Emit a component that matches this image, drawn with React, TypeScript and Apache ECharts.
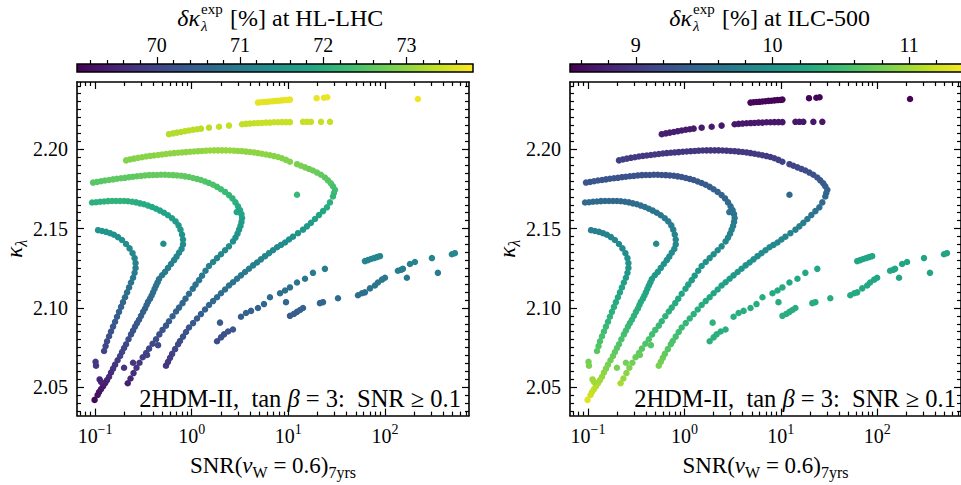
import React, { useEffect, useRef } from "react";
import * as echarts from "echarts";

const SERIF = "'Liberation Serif', 'DejaVu Serif', serif";
const VIRIDIS = ["#440154", "#482475", "#414487", "#355f8d", "#2a788e", "#21918c", "#22a884", "#44bf70", "#7ad151", "#bddf26", "#fde725"];

// axis ranges and tick labels
const X_LOG_MIN = -1.187;
const X_LOG_MAX = 2.87;
const Y_MIN = 2.0321;
const Y_MAX = 2.2424;
const Y_TICKS = [2.05, 2.1, 2.15, 2.2];
const X_TICK_EXPONENTS = [-1, 0, 1, 2];
const HL_MIN = 69.04;
const HL_MAX = 73.8;
const HL_TICKS = [70, 71, 72, 73];
const ILC_MIN = 8.518;
const ILC_MAX = 11.38;
const ILC_TICKS = [9, 10, 11];

// points: [log10 SNR, kappa_lambda, dk_exp HL-LHC (%), dk_exp ILC-500 (%)]
const curveA = [
  [0.686, 2.2294, 73.6, 8.56], [0.717, 2.2296, 73.6, 8.56], [0.748, 2.2298, 73.6, 8.56], [0.779, 2.2299, 73.6, 8.56],
  [0.81, 2.2301, 73.6, 8.56], [0.841, 2.2303, 73.6, 8.56], [0.872, 2.2305, 73.6, 8.56], [0.903, 2.2306, 73.6, 8.55],
  [0.934, 2.2308, 73.6, 8.55], [0.966, 2.231, 73.65, 8.55], [0.997, 2.2311, 73.65, 8.55], [1.017, 2.2313, 73.65, 8.55],
  [1.293, 2.2322, 73.65, 8.55], [1.369, 2.2325, 73.65, 8.55], [1.403, 2.2328, 73.65, 8.55], [2.341, 2.2317, 73.7, 8.55],
];

const curveB = [
  [-0.235, 2.2095, 73.25, 8.76], [-0.193, 2.21, 73.25, 8.76], [-0.152, 2.2105, 73.25, 8.75], [-0.11, 2.2109, 73.25, 8.75],
  [-0.069, 2.2114, 73.3, 8.75], [-0.028, 2.2118, 73.3, 8.74], [0.014, 2.2123, 73.3, 8.74], [0.055, 2.2126, 73.3, 8.74],
  [0.096, 2.213, 73.3, 8.73], [0.179, 2.2136, 73.3, 8.73], [0.283, 2.2142, 73.35, 8.72], [0.386, 2.2149, 73.35, 8.71],
  [0.521, 2.2158, 73.35, 8.7], [0.562, 2.216, 73.35, 8.7], [0.603, 2.2162, 73.35, 8.7], [0.645, 2.2164, 73.35, 8.7],
  [0.686, 2.2165, 73.4, 8.7], [0.727, 2.2166, 73.4, 8.7], [0.769, 2.2168, 73.4, 8.7], [0.81, 2.2168, 73.4, 8.7],
  [0.852, 2.217, 73.4, 8.7], [0.893, 2.217, 73.4, 8.7], [0.934, 2.2171, 73.4, 8.7], [0.976, 2.2171, 73.4, 8.7],
  [1.017, 2.2171, 73.4, 8.7], [1.152, 2.2173, 73.4, 8.69], [1.193, 2.2173, 73.4, 8.69], [1.234, 2.2173, 73.4, 8.69],
  [1.338, 2.2173, 73.4, 8.69], [1.431, 2.2173, 73.4, 8.69],
];

const curveC = [
  [-0.679, 2.193, 72.9, 9.05], [-0.638, 2.1936, 72.9, 9.05], [-0.597, 2.1941, 72.9, 9.05], [-0.555, 2.1946, 72.95, 9.0],
  [-0.514, 2.195, 72.95, 9.0], [-0.472, 2.1954, 72.95, 9.0], [-0.431, 2.1958, 72.95, 9.0], [-0.39, 2.1961, 72.95, 9.0],
  [-0.348, 2.1964, 73.0, 9.0], [-0.307, 2.1967, 73.0, 9.0], [-0.266, 2.197, 73.0, 9.0], [-0.224, 2.1973, 73.0, 8.98],
  [-0.183, 2.1976, 73.0, 8.98], [-0.141, 2.1978, 73.0, 8.98], [-0.1, 2.198, 73.0, 8.98], [-0.059, 2.1982, 73.0, 8.97],
  [-0.017, 2.1984, 73.0, 8.97], [0.024, 2.1986, 73.0, 8.97], [0.065, 2.1988, 73.0, 8.97], [0.107, 2.1989, 73.0, 8.97],
  [0.148, 2.1991, 73.05, 8.96], [0.19, 2.1992, 73.05, 8.96], [0.231, 2.1993, 73.05, 8.96], [0.272, 2.1993, 73.05, 8.96],
  [0.314, 2.1993, 73.05, 8.96], [0.355, 2.1993, 73.05, 8.96], [0.396, 2.1992, 73.05, 8.96], [0.438, 2.1991, 73.05, 8.96],
  [0.479, 2.1989, 73.0, 8.97], [0.521, 2.1988, 73.0, 8.97], [0.562, 2.1985, 73.0, 8.97], [0.603, 2.1983, 73.0, 8.98],
  [0.645, 2.198, 73.0, 8.98], [0.686, 2.1976, 73.0, 8.98], [0.727, 2.1972, 73.0, 8.99], [0.769, 2.1967, 73.0, 9.0],
  [0.81, 2.1962, 72.95, 9.0], [0.852, 2.1957, 72.95, 9.0], [0.893, 2.1951, 72.95, 9.0], [0.934, 2.1943, 72.9, 9.05],
  [0.976, 2.1933, 72.9, 9.05], [1.017, 2.1921, 72.9, 9.07], [1.09, 2.1906, 72.85, 9.1], [1.131, 2.1896, 72.85, 9.1],
  [1.173, 2.1886, 72.8, 9.12], [1.214, 2.1876, 72.75, 9.15], [1.255, 2.1866, 72.75, 9.17], [1.297, 2.1853, 72.7, 9.2],
  [1.338, 2.1839, 72.65, 9.23], [1.379, 2.1822, 72.6, 9.27], [1.41, 2.1804, 72.55, 9.3], [1.441, 2.1785, 72.5, 9.33],
  [1.462, 2.1767, 72.4, 9.37], [1.483, 2.1745, 72.35, 9.4], [1.472, 2.1724, 72.25, 9.43], [1.462, 2.1702, 72.15, 9.45],
  [1.431, 2.1665, 72.05, 9.5], [1.4, 2.1634, 71.95, 9.55], [1.359, 2.161, 71.85, 9.6], [1.317, 2.1585, 71.8, 9.63],
  [1.276, 2.156, 71.7, 9.68], [1.234, 2.1536, 71.65, 9.72], [1.193, 2.1514, 71.6, 9.74], [1.152, 2.1493, 71.55, 9.76],
  [1.1, 2.1471, 71.5, 9.78], [1.048, 2.1449, 71.45, 9.8], [1.007, 2.1431, 71.4, 9.82], [0.966, 2.1412, 71.35, 9.84],
  [0.924, 2.1397, 71.35, 9.85], [0.883, 2.1382, 71.3, 9.87], [0.841, 2.1363, 71.25, 9.89], [0.8, 2.1345, 71.25, 9.9],
  [0.759, 2.1326, 71.2, 9.92], [0.717, 2.1306, 71.15, 9.94], [0.676, 2.1286, 71.1, 9.96], [0.635, 2.1268, 71.1, 9.98],
  [0.593, 2.1247, 71.05, 10.0], [0.552, 2.1226, 71.0, 10.02], [0.51, 2.1205, 70.95, 10.04], [0.469, 2.1184, 70.9, 10.08],
  [0.427, 2.1162, 70.85, 10.12], [0.386, 2.1141, 70.85, 10.15], [0.345, 2.1116, 70.8, 10.18], [0.303, 2.1092, 70.75, 10.2],
  [0.262, 2.1067, 70.7, 10.23], [0.221, 2.1043, 70.65, 10.26], [0.179, 2.1018, 70.6, 10.28], [0.138, 2.099, 70.55, 10.31],
  [0.096, 2.0961, 70.45, 10.34], [0.055, 2.0933, 70.4, 10.37], [0.014, 2.0904, 70.35, 10.4], [-0.028, 2.0876, 70.3, 10.44],
  [-0.059, 2.0848, 70.25, 10.48], [-0.09, 2.0819, 70.2, 10.52], [-0.121, 2.0791, 70.15, 10.56], [-0.141, 2.0771, 70.1, 10.58],
  [-0.172, 2.074, 70.05, 10.62], [-0.203, 2.071, 69.95, 10.68], [-0.224, 2.0685, 69.9, 10.72], [-0.245, 2.066, 69.85, 10.76],
  [-0.266, 2.0636, 69.8, 10.8],
];

const curveC2 = [
  [-1.021, 2.179, 72.55, 9.3], [-0.979, 2.1794, 72.55, 9.3], [-0.938, 2.1798, 72.55, 9.29], [-0.897, 2.1803, 72.55, 9.29],
  [-0.855, 2.1806, 72.6, 9.28], [-0.814, 2.181, 72.6, 9.28], [-0.773, 2.1814, 72.6, 9.27], [-0.731, 2.1817, 72.6, 9.27],
  [-0.69, 2.182, 72.6, 9.26], [-0.648, 2.1824, 72.6, 9.26], [-0.607, 2.1827, 72.6, 9.25], [-0.566, 2.183, 72.6, 9.25],
  [-0.524, 2.1832, 72.65, 9.24], [-0.483, 2.1835, 72.65, 9.24], [-0.441, 2.1837, 72.65, 9.24], [-0.4, 2.1838, 72.65, 9.23],
  [-0.359, 2.1838, 72.65, 9.23], [-0.317, 2.1839, 72.65, 9.23], [-0.276, 2.1839, 72.65, 9.23], [-0.235, 2.1838, 72.65, 9.23],
  [-0.193, 2.1837, 72.65, 9.24], [-0.152, 2.1835, 72.65, 9.24], [-0.11, 2.1833, 72.65, 9.24], [-0.069, 2.1829, 72.6, 9.25],
  [-0.028, 2.1825, 72.6, 9.26], [0.014, 2.1819, 72.6, 9.27], [0.055, 2.1813, 72.55, 9.28], [0.096, 2.1806, 72.55, 9.29],
  [0.138, 2.1797, 72.5, 9.31], [0.179, 2.1787, 72.45, 9.32], [0.221, 2.1776, 72.45, 9.34], [0.262, 2.1763, 72.4, 9.36],
  [0.303, 2.1748, 72.35, 9.4], [0.345, 2.1731, 72.25, 9.42], [0.386, 2.1711, 72.2, 9.44], [0.422, 2.169, 72.1, 9.46],
  [0.453, 2.1665, 72.05, 9.5], [0.479, 2.164, 71.95, 9.54], [0.5, 2.1616, 71.9, 9.58], [0.515, 2.1591, 71.8, 9.61],
  [0.521, 2.1567, 71.75, 9.65], [0.515, 2.1542, 71.65, 9.69], [0.505, 2.1517, 71.6, 9.72], [0.49, 2.1493, 71.55, 9.76],
  [0.474, 2.1468, 71.5, 9.78], [0.453, 2.1443, 71.45, 9.8], [0.427, 2.1419, 71.4, 9.83], [0.386, 2.1388, 71.35, 9.86],
  [0.345, 2.1363, 71.25, 9.89], [0.303, 2.1338, 71.25, 9.91], [0.262, 2.1314, 71.2, 9.94], [0.221, 2.1289, 71.15, 9.96],
  [0.179, 2.1264, 71.1, 9.99], [0.143, 2.1234, 71.0, 10.02], [0.107, 2.1203, 70.95, 10.05], [0.076, 2.1175, 70.9, 10.1],
  [0.04, 2.1147, 70.85, 10.14], [0.011, 2.1121, 70.8, 10.17], [-0.028, 2.1089, 70.75, 10.21], [-0.064, 2.1058, 70.65, 10.24],
  [-0.095, 2.103, 70.6, 10.27], [-0.131, 2.1002, 70.55, 10.3], [-0.162, 2.0977, 70.5, 10.32], [-0.198, 2.0947, 70.45, 10.35],
  [-0.235, 2.0916, 70.4, 10.39], [-0.266, 2.0888, 70.3, 10.42], [-0.302, 2.0861, 70.25, 10.47], [-0.335, 2.0833, 70.2, 10.51],
  [-0.369, 2.0802, 70.15, 10.55], [-0.405, 2.0774, 70.1, 10.58], [-0.441, 2.0743, 70.05, 10.61], [-0.472, 2.0716, 69.95, 10.68],
  [-0.507, 2.0689, 69.9, 10.72], [-0.54, 2.0654, 69.8, 10.76], [-0.571, 2.0623, 69.75, 10.82], [-0.602, 2.0589, 69.65, 10.87],
  [-0.633, 2.0555, 69.55, 10.94], [-0.662, 2.0525, 69.45, 11.0],
];

const curveD = [
  [-1.031, 2.1664, 72.05, 9.51], [-0.99, 2.1666, 72.05, 9.51], [-0.948, 2.1669, 72.05, 9.5], [-0.907, 2.1671, 72.05, 9.5],
  [-0.866, 2.1673, 72.1, 9.49], [-0.824, 2.1674, 72.1, 9.49], [-0.783, 2.1674, 72.1, 9.49], [-0.741, 2.1674, 72.1, 9.49],
  [-0.7, 2.1674, 72.1, 9.49], [-0.659, 2.1672, 72.05, 9.5], [-0.617, 2.1669, 72.05, 9.5], [-0.576, 2.1665, 72.0, 9.51],
  [-0.535, 2.1659, 72.0, 9.53], [-0.493, 2.1653, 71.95, 9.54], [-0.452, 2.1645, 71.95, 9.56], [-0.41, 2.1636, 71.9, 9.58],
  [-0.369, 2.1625, 71.9, 9.6], [-0.328, 2.1613, 71.85, 9.61], [-0.286, 2.16, 71.8, 9.62], [-0.245, 2.1584, 71.8, 9.64],
  [-0.203, 2.1565, 71.7, 9.67], [-0.167, 2.1545, 71.65, 9.71], [-0.136, 2.152, 71.6, 9.74], [-0.116, 2.1493, 71.55, 9.76],
  [-0.1, 2.1462, 71.45, 9.79], [-0.09, 2.1431, 71.4, 9.82], [-0.09, 2.14, 71.35, 9.85], [-0.105, 2.1372, 71.3, 9.88],
  [-0.131, 2.1348, 71.25, 9.9], [-0.157, 2.1323, 71.2, 9.92], [-0.183, 2.1301, 71.15, 9.95], [-0.214, 2.1277, 71.1, 9.97],
  [-0.245, 2.1252, 71.05, 10.0], [-0.276, 2.1227, 71.0, 10.03], [-0.307, 2.1206, 70.95, 10.05], [-0.338, 2.1182, 70.9, 10.09],
  [-0.353, 2.1161, 70.85, 10.12], [-0.369, 2.1141, 70.85, 10.15], [-0.384, 2.112, 70.8, 10.17], [-0.4, 2.1098, 70.75, 10.2],
  [-0.415, 2.1078, 70.7, 10.22], [-0.431, 2.1058, 70.65, 10.24], [-0.452, 2.1038, 70.6, 10.26], [-0.467, 2.1018, 70.6, 10.28],
  [-0.483, 2.0996, 70.55, 10.3], [-0.503, 2.0975, 70.5, 10.33], [-0.524, 2.095, 70.45, 10.35], [-0.545, 2.0925, 70.4, 10.38],
  [-0.566, 2.0904, 70.35, 10.4], [-0.586, 2.0882, 70.3, 10.44], [-0.607, 2.0857, 70.25, 10.48], [-0.628, 2.0833, 70.2, 10.51],
  [-0.654, 2.0802, 70.15, 10.55], [-0.679, 2.0771, 70.1, 10.58], [-0.7, 2.0747, 70.05, 10.61], [-0.721, 2.0722, 70.0, 10.66],
  [-0.741, 2.0697, 69.95, 10.7], [-0.767, 2.067, 69.85, 10.74], [-0.793, 2.0642, 69.8, 10.79], [-0.814, 2.0617, 69.75, 10.83],
  [-0.835, 2.0593, 69.65, 10.87], [-0.855, 2.0566, 69.6, 10.92], [-0.876, 2.0545, 69.55, 10.96], [-0.897, 2.0525, 69.45, 11.0],
  [-0.917, 2.0506, 69.4, 11.04], [-0.938, 2.0488, 69.35, 11.08], [-0.959, 2.0469, 69.3, 11.12], [-0.974, 2.0451, 69.25, 11.16],
  [-1.005, 2.042, 69.15, 11.25],
];

const curveE = [
  [-0.969, 2.149, 71.5, 9.76], [-0.928, 2.1485, 71.5, 9.77], [-0.886, 2.1479, 71.5, 9.77], [-0.845, 2.1471, 71.5, 9.78],
  [-0.804, 2.1461, 71.45, 9.79], [-0.762, 2.1446, 71.45, 9.81], [-0.721, 2.1428, 71.4, 9.82], [-0.679, 2.1403, 71.35, 9.85],
  [-0.643, 2.1375, 71.3, 9.87], [-0.612, 2.1345, 71.25, 9.9], [-0.591, 2.1314, 71.2, 9.94], [-0.581, 2.1283, 71.15, 9.97],
  [-0.581, 2.1252, 71.05, 10.0], [-0.591, 2.1221, 71.0, 10.03], [-0.607, 2.119, 70.95, 10.07], [-0.628, 2.116, 70.85, 10.14],
  [-0.648, 2.1129, 70.8, 10.17], [-0.669, 2.1098, 70.75, 10.2], [-0.69, 2.1067, 70.7, 10.23], [-0.711, 2.1036, 70.6, 10.26],
  [-0.731, 2.1006, 70.55, 10.3], [-0.752, 2.0975, 70.5, 10.33], [-0.773, 2.0944, 70.45, 10.36], [-0.793, 2.0913, 70.4, 10.39],
  [-0.814, 2.0882, 70.3, 10.43], [-0.835, 2.0851, 70.25, 10.48], [-0.855, 2.0821, 70.2, 10.53], [-0.876, 2.079, 70.15, 10.56],
  [-0.891, 2.0759, 70.05, 10.59], [-0.907, 2.0728, 70.0, 10.65], [-0.995, 2.066, 69.85, 10.77], [-0.99, 2.0636, 69.8, 10.8],
  [-0.953, 2.0549, 69.55, 10.95], [-0.938, 2.0534, 69.5, 10.98],
];

const dotsUpper = [
  [0.262, 2.079, 70.15, 10.32], [0.303, 2.0814, 70.2, 10.32], [0.334, 2.0833, 70.2, 10.32], [0.376, 2.0851, 70.25, 10.31],
  [0.427, 2.0864, 70.3, 10.31], [0.51, 2.0944, 70.45, 10.3], [0.562, 2.0968, 70.5, 10.3], [0.614, 2.0981, 70.5, 10.29],
  [0.686, 2.0999, 70.55, 10.29], [0.748, 2.1024, 70.6, 10.28], [0.81, 2.1067, 70.7, 10.27], [0.914, 2.1092, 70.75, 10.26],
  [0.966, 2.111, 70.8, 10.25], [1.017, 2.1129, 70.8, 10.25], [1.09, 2.116, 70.85, 10.24], [1.173, 2.1184, 70.9, 10.23],
  [1.255, 2.1221, 71.0, 10.22], [1.379, 2.1246, 71.05, 10.21],
];

const dotsLower = [
  [1.017, 2.095, 70.4, 10.3], [1.058, 2.0962, 70.45, 10.3], [1.09, 2.0975, 70.45, 10.3], [1.121, 2.0987, 70.5, 10.29],
  [1.152, 2.0999, 70.5, 10.29], [1.327, 2.103, 70.6, 10.28], [1.359, 2.1036, 70.6, 10.28], [1.514, 2.1061, 70.7, 10.27],
  [1.721, 2.108, 70.75, 10.26], [1.762, 2.1092, 70.75, 10.26], [1.793, 2.1098, 70.8, 10.25], [1.845, 2.1123, 70.85, 10.24],
  [1.896, 2.1141, 70.9, 10.24], [1.927, 2.116, 70.9, 10.23], [1.969, 2.1178, 70.95, 10.22], [2.0, 2.119, 70.95, 10.22],
  [2.134, 2.1234, 71.05, 10.21], [2.166, 2.124, 71.05, 10.21], [2.186, 2.1246, 71.05, 10.21], [2.259, 2.1277, 71.1, 10.2],
  [2.31, 2.1289, 71.15, 10.2], [2.486, 2.1314, 71.2, 10.19], [2.693, 2.1338, 71.25, 10.19], [2.724, 2.1345, 71.25, 10.19],
];

const dotsGroup = [
  [1.793, 2.1295, 71.2, 10.2], [1.824, 2.1301, 71.2, 10.2], [1.855, 2.1308, 71.2, 10.2],
  [1.886, 2.1314, 71.2, 10.2], [1.917, 2.132, 71.2, 10.2], [1.948, 2.1326, 71.2, 10.2],
];

const dotsIsolated = [
  [0.293, 2.0907, 70.4, 10.35], [0.976, 2.1036, 70.6, 10.28], [2.227, 2.119, 70.95, 10.2], [2.548, 2.1221, 71.0, 10.2],
  [1.09, 2.1713, 72.2, 9.47], [-0.293, 2.1404, 71.35, 9.85], [0.466, 2.1604, 71.85, 9.6],
  [-0.7, 2.0623, 69.75, 10.8], [-0.607, 2.0654, 69.8, 10.77], [-0.462, 2.0703, 69.95, 10.7], [-0.348, 2.0765, 70.1, 10.6],
];

const ALL_POINTS = [curveA, curveB, curveC, curveC2, curveD, curveE, dotsUpper, dotsLower, dotsGroup, dotsIsolated];

function buildMinor(lo: number, hi: number, step: number, skip: number[]): number[] {
  const out: number[] = [];
  const n = Math.round((hi - lo) / step);
  for (let i = 0; i <= n; i++) {
    const v = +(lo + i * step).toFixed(4);
    if (!skip.some((s) => Math.abs(s - v) < 1e-6)) out.push(v);
  }
  return out;
}

const X_MINOR: number[] = [];
for (let d = -2; d <= 2; d++) {
  for (let m = 2; m <= 9; m++) {
    const v = Math.log10(m * Math.pow(10, d));
    if (v > X_LOG_MIN && v < X_LOG_MAX) X_MINOR.push(v);
  }
}
const Y_MINOR = buildMinor(2.035, 2.24, 0.005, Y_TICKS);
const HL_MINOR = buildMinor(69.2, 73.6, 0.2, HL_TICKS);
const ILC_MINOR = buildMinor(8.6, 11.2, 0.2, ILC_TICKS);

const BLACK = "#000";
const frameLine = { show: true, onZero: false, lineStyle: { color: BLACK, width: 1.6 } };
const noLine = { show: false, onZero: false };
const tickStyle = { color: BLACK, width: 1.2 };

const RICH = {
  t: { fontFamily: SERIF, fontSize: 23, lineHeight: 30, color: BLACK },
  i: { fontFamily: SERIF, fontSize: 23, lineHeight: 30, fontStyle: "italic", color: BLACK },
  s: { fontFamily: SERIF, fontSize: 16, lineHeight: 16, verticalAlign: "bottom", color: BLACK },
  si: { fontFamily: SERIF, fontSize: 16, lineHeight: 16, verticalAlign: "bottom", fontStyle: "italic", color: BLACK },
};

const RICH_ANN = {
  t: { fontFamily: SERIF, fontSize: 24.5, lineHeight: 30, color: BLACK },
  i: { fontFamily: SERIF, fontSize: 24.5, lineHeight: 30, fontStyle: "italic", color: BLACK },
};

function panelXAxes(grid: number) {
  const base = { type: "value", gridIndex: grid, min: X_LOG_MIN, max: X_LOG_MAX, splitLine: { show: false } };
  return [
    { type: "log", logBase: 10, gridIndex: grid, min: Math.pow(10, X_LOG_MIN), max: Math.pow(10, X_LOG_MAX), show: false, axisLine: noLine, splitLine: { show: false } },
    {
      ...base,
      position: "bottom",
      axisLine: frameLine,
      axisTick: { show: true, inside: true, length: 7, customValues: X_TICK_EXPONENTS, lineStyle: tickStyle },
      axisLabel: {
        show: true,
        customValues: X_TICK_EXPONENTS,
        formatter: (v: number) => "10{sup|" + (v < 0 ? "\u2212" + -v : String(v)) + "}",
        fontFamily: SERIF,
        fontSize: 20,
        lineHeight: 26,
        color: BLACK,
        margin: 7,
        rich: { sup: { fontFamily: SERIF, fontSize: 14, lineHeight: 14, verticalAlign: "top", color: BLACK } },
      },
      name: "{t|SNR(}{i|v}{s|W}{t| = 0.6)}{s|7yrs}",
      nameLocation: "middle",
      nameGap: 27,
      nameTextStyle: { fontFamily: SERIF, fontSize: 23, color: BLACK, rich: RICH },
    },
    { ...base, position: "bottom", axisLine: noLine, axisTick: { show: true, inside: true, length: 4, customValues: X_MINOR, lineStyle: tickStyle }, axisLabel: { show: false } },
    { ...base, position: "top", axisLine: frameLine, axisTick: { show: true, inside: true, length: 7, customValues: X_TICK_EXPONENTS, lineStyle: tickStyle }, axisLabel: { show: false } },
    { ...base, position: "top", axisLine: noLine, axisTick: { show: true, inside: true, length: 4, customValues: X_MINOR, lineStyle: tickStyle }, axisLabel: { show: false } },
  ];
}

function panelYAxes(grid: number) {
  const base = { type: "value", gridIndex: grid, min: Y_MIN, max: Y_MAX, splitLine: { show: false } };
  return [
    {
      ...base,
      position: "left",
      axisLine: frameLine,
      axisTick: { show: true, inside: true, length: 7, customValues: Y_TICKS, lineStyle: tickStyle },
      axisLabel: { show: true, customValues: Y_TICKS, formatter: (v: number) => v.toFixed(2), fontFamily: SERIF, fontSize: 20, color: BLACK, margin: 9 },
      name: "{i|\u03ba}{si|\u03bb}",
      nameLocation: "middle",
      nameGap: 48,
      nameRotate: 90,
      nameTextStyle: { fontFamily: SERIF, fontSize: 23, color: BLACK, rich: RICH },
    },
    { ...base, position: "left", axisLine: noLine, axisTick: { show: true, inside: true, length: 4, customValues: Y_MINOR, lineStyle: tickStyle }, axisLabel: { show: false } },
    { ...base, position: "right", axisLine: frameLine, axisTick: { show: true, inside: true, length: 7, customValues: Y_TICKS, lineStyle: tickStyle }, axisLabel: { show: false } },
    { ...base, position: "right", axisLine: noLine, axisTick: { show: true, inside: true, length: 4, customValues: Y_MINOR, lineStyle: tickStyle }, axisLabel: { show: false } },
  ];
}

function colorbarXAxes(grid: number, min: number, max: number, majors: number[], minors: number[]) {
  const base = { type: "value", gridIndex: grid, position: "top", min, max, splitLine: { show: false }, axisLine: noLine };
  return [
    { ...base, axisTick: { show: true, inside: false, length: 7, customValues: majors, lineStyle: tickStyle }, axisLabel: { show: true, customValues: majors, fontFamily: SERIF, fontSize: 20, color: BLACK, margin: 9 } },
    { ...base, axisTick: { show: true, inside: false, length: 4, customValues: minors, lineStyle: tickStyle }, axisLabel: { show: false } },
  ];
}

function titleElements(x0: number, restX: number, rest: string) {
  const common = { fill: BLACK };
  return [
    { type: "text", x: x0, y: 18, style: { ...common, text: "\u03b4\u03ba", font: `italic 24px ${SERIF}`, align: "right", textAlign: "right", verticalAlign: "middle", textVerticalAlign: "middle" } },
    { type: "text", x: x0 + 1, y: 9, style: { ...common, text: "exp", font: `15px ${SERIF}`, align: "left", textAlign: "left", verticalAlign: "middle", textVerticalAlign: "middle" } },
    { type: "text", x: x0 + 1, y: 26, style: { ...common, text: "\u03bb", font: `italic 15px ${SERIF}`, align: "left", textAlign: "left", verticalAlign: "middle", textVerticalAlign: "middle" } },
    { type: "text", x: restX, y: 18, style: { ...common, text: rest, font: `24px ${SERIF}`, align: "left", textAlign: "left", verticalAlign: "middle", textVerticalAlign: "middle" } },
  ];
}

function annotation(x: number) {
  return {
    type: "text",
    x,
    y: 398,
    style: {
      text: "{t|2HDM-II,  tan }{i|\u03b2}{t| = 3:  SNR \u2265 0.1}",
      rich: RICH_ANN,
      fill: BLACK,
      align: "right",
      textAlign: "right",
      verticalAlign: "middle",
      textVerticalAlign: "middle",
    },
  };
}

function gradientFill() {
  return new echarts.graphic.LinearGradient(0, 0, 1, 0, VIRIDIS.map((c, i) => ({ offset: i / (VIRIDIS.length - 1), color: c })));
}

export default function App() {
  const ref = useRef<HTMLDivElement>(null);
  useEffect(() => {
    if (!ref.current) return;
    const chart = echarts.init(ref.current, undefined, { renderer: "svg" });
    const data = ALL_POINTS.flat().map((p) => [Math.pow(10, p[0]), p[1], p[2], p[3]]);
    const option = {
      animation: false,
      backgroundColor: "#fff",
      grid: [
        { left: 77, top: 82, width: 392, height: 341 },
        { left: 570, top: 82, width: 392, height: 341 },
        { left: 77, top: 64, width: 396, height: 8 },
        { left: 570, top: 64, width: 396, height: 8 },
      ],
      xAxis: [
        ...panelXAxes(0),
        ...panelXAxes(1),
        ...colorbarXAxes(2, HL_MIN, HL_MAX, HL_TICKS, HL_MINOR),
        ...colorbarXAxes(3, ILC_MIN, ILC_MAX, ILC_TICKS, ILC_MINOR),
      ],
      yAxis: [
        ...panelYAxes(0),
        ...panelYAxes(1),
        { type: "value", gridIndex: 2, min: 0, max: 1, show: false, axisLine: noLine },
        { type: "value", gridIndex: 3, min: 0, max: 1, show: false, axisLine: noLine },
      ],
      visualMap: [
        { type: "continuous", show: false, seriesIndex: 0, dimension: 2, min: HL_MIN, max: HL_MAX, inRange: { color: VIRIDIS } },
        { type: "continuous", show: false, seriesIndex: 1, dimension: 3, min: ILC_MIN, max: ILC_MAX, inRange: { color: VIRIDIS } },
      ],
      series: [
        { type: "scatter", name: "HL-LHC", xAxisIndex: 0, yAxisIndex: 0, data, symbolSize: 6.5, silent: true, itemStyle: { opacity: 1 } },
        { type: "scatter", name: "ILC-500", xAxisIndex: 5, yAxisIndex: 4, data, symbolSize: 6.5, silent: true, itemStyle: { opacity: 1 } },
      ],
      graphic: [
        { type: "rect", shape: { x: 77, y: 64, width: 396, height: 8 }, style: { fill: gradientFill(), stroke: BLACK, lineWidth: 1.5 } },
        { type: "rect", shape: { x: 570, y: 64, width: 396, height: 8 }, style: { fill: gradientFill(), stroke: BLACK, lineWidth: 1.5 } },
        ...titleElements(200, 230, "[%] at HL-LHC"),
        ...titleElements(692, 722, "[%] at ILC-500"),
        annotation(461),
        annotation(956),
      ],
    };
    chart.setOption(option as any);
    return () => chart.dispose();
  }, []);
  return <div ref={ref} style={{ position: "fixed", left: 0, top: 0, width: 961, height: 485, background: "#fff" }} />;
}
